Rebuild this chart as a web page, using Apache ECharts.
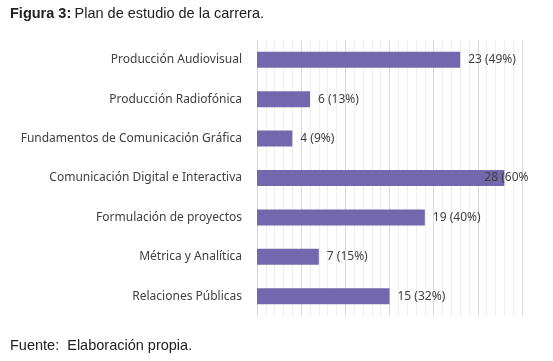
<!DOCTYPE html>
<html><head><meta charset="utf-8">
<script src="https://cdn.jsdelivr.net/npm/echarts@6/dist/echarts.min.js"></script>
<style>html,body{margin:0;padding:0;background:#fff}#c{width:553px;height:361px}</style>
</head><body><div id="c"></div>
<script>
const categories = ["Producción Audiovisual","Producción Radiofónica","Fundamentos de Comunicación Gráfica","Comunicación Digital e Interactiva","Formulación de proyectos","Métrica y Analítica","Relaciones Públicas"];
const values = [23, 6, 4, 28, 19, 7, 15];
const percents = [49, 13, 9, 60, 40, 15, 32];
const axisMax = 30;

const chart = echarts.init(document.getElementById('c'));
const data = values.map((v, i) => {
  const d = { value: v };
  if (i === 3) {
    d.label = { formatter: v + ' (' + percents[i] + '%', offset: [-28, 0] };
  }
  return d;
});
chart.setOption({
  animation: false,
  graphic: [
    { type: 'text', left: 10, top: 6, style: { rich: { b: { fontWeight: 'bold', fontSize: 14.5, fontFamily: 'Liberation Sans', fill: '#222' }, n: { fontSize: 14.5, fontFamily: 'Liberation Sans', fill: '#222' } }, text: '{b|Figura 3:} {n|Plan de estudio de la carrera.}' } },
    { type: 'text', left: 10, top: 338, style: { text: 'Fuente:  Elaboración propia.', fontSize: 14.5, fontFamily: 'Liberation Sans', fill: '#222' } }
  ],
  grid: { left: 257, right: 31, top: 40, bottom: 45, containLabel: false },
  xAxis: {
    type: 'value', min: 0, max: axisMax, interval: 5,
    axisLabel: { show: false }, axisTick: { show: false }, axisLine: { show: false },
    splitLine: { show: true, lineStyle: { color: '#d9d9d9', width: 1 } },
    minorTick: { show: false, splitNumber: 5 },
    minorSplitLine: { show: true, lineStyle: { color: '#eeeeee', width: 1 } }
  },
  yAxis: {
    type: 'category', data: categories, inverse: true,
    axisTick: { show: false },
    axisLine: { show: true, lineStyle: { color: '#d9d9d9' } },
    axisLabel: { color: '#404040', fontSize: 12, fontFamily: 'Noto Sans', margin: 15 }
  },
  series: [{
    type: 'bar', data: data, barWidth: 16,
    itemStyle: { color: '#7367ad' },
    label: {
      show: true, position: 'right', distance: 8, color: '#404040', fontSize: 12, fontFamily: 'Noto Sans',
      formatter: p => p.value + ' (' + percents[p.dataIndex] + '%)'
    }
  }]
});
</script></body></html>
